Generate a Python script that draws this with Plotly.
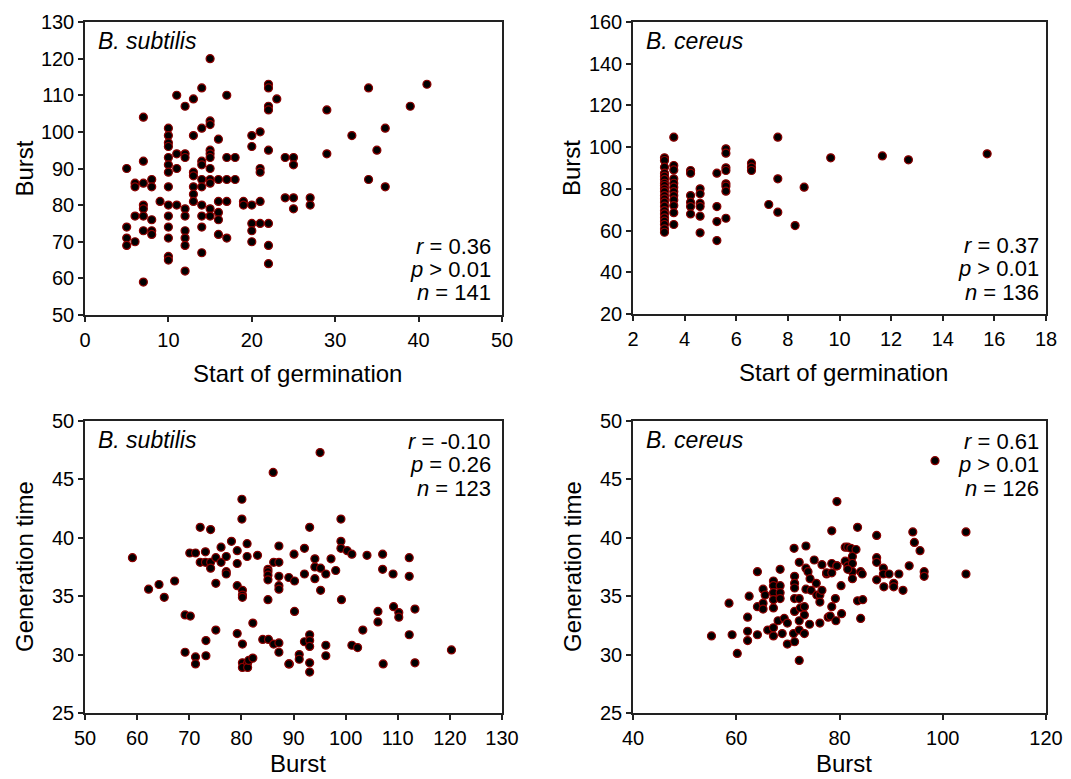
import plotly.graph_objects as go

# ---------------- data ----------------
# Panel A: B. subtilis, start of germination vs burst
bs_germ = [15, 11, 13, 14, 12, 17, 22, 22, 23, 22, 22, 7,
           10, 10, 10, 10, 14, 15, 15, 13, 16, 20, 21, 20, 22,
           11, 12, 12, 10, 10, 10, 11, 15, 15, 15, 14, 14, 15, 17, 18,
           13, 13, 16, 17, 18, 14, 15, 15, 13, 13, 13, 14, 21, 21,
           24, 25, 25, 24, 25, 25, 5, 6, 6, 7, 8, 8, 7, 10, 9,
           10, 11, 12, 7, 7, 6, 7, 8, 10, 10, 10, 12, 14, 15, 16, 16,
           14, 15, 16, 17, 19, 19, 20, 21, 20, 20, 21, 22, 5, 5, 5, 6,
           7, 8, 8, 12, 12, 12, 10, 10, 12, 7, 14, 14, 16, 17, 20, 22, 22,
           27, 27, 29, 29, 34, 32, 36, 35, 39, 41, 34, 36]
bs_burst_a = [120, 110, 109, 112, 107, 110, 113, 112, 109, 107, 106, 104,
              101, 99, 97, 96, 101, 103, 102, 99, 98, 99, 100, 96, 95,
              94, 94, 93, 93, 91, 89, 90, 95, 94, 93, 92, 91, 90, 93, 93,
              89, 88, 87, 87, 87, 87, 87, 86, 85, 83, 81, 85, 90, 89,
              93, 93, 91, 82, 82, 79, 90, 86, 85, 86, 87, 85, 92, 85, 81,
              80, 80, 79, 80, 79, 77, 77, 76, 77, 74, 71, 77, 80, 79, 78, 76,
              77, 77, 81, 81, 81, 80, 80, 81, 75, 73, 75, 75, 74, 71, 69, 70,
              73, 73, 72, 73, 71, 69, 66, 65, 62, 59, 74, 67, 72, 71, 70, 69, 64,
              82, 80, 106, 94, 112, 99, 101, 95, 107, 113, 87, 85]

# Panel B: B. cereus, start of germination vs burst
bc_germ = ([3.22] * 21 + [3.58] * 12 + [4.23] * 6 + [4.6] * 6 + [5.25] * 4 +
           [5.6] * 8 + [6.59] * 3 +
           [7.26, 7.61, 7.61, 7.61, 8.28, 8.63, 9.66, 11.66, 12.67, 15.72])
bc_burst_b = [94.9, 93.6, 90.4, 87.5, 86.1, 84.5, 82.7, 81.6, 80.0, 78.7, 76.8,
              75.2, 73.6, 71.7, 69.6, 68.0, 66.1, 64.5, 62.9, 60.8, 59.2,
              104.8, 91.2, 89.1, 84.8, 82.7, 80.8, 78.7, 76.8, 74.7, 72.0, 68.6, 62.9,
              88.8, 87.5, 76.8, 73.6, 71.5, 68.0,
              80.0, 77.6, 73.1, 71.5, 66.9, 58.9,
              87.5, 71.5, 64.3, 55.2,
              99.2, 97.1, 90.1, 88.8, 82.4, 81.3, 78.9, 65.9,
              92.3, 90.4, 88.8,
              72.5, 104.8, 84.8, 68.8, 62.4, 80.8, 94.9, 95.8, 93.9, 96.8]

# Panel C: B. subtilis, burst vs generation time
bs_burst_c = [59.1, 62.2, 64.2, 65.2, 67.2, 69.2, 70.2, 69.2, 71.2, 71.2, 73.2, 73.2,
              75.1, 79.2, 80.2, 82.2, 80.2, 80.2, 81.2, 81.2, 81.4, 82.2,
              84.1, 85.2, 86.2, 87.2, 87.2, 89.2,
              70.1, 71.2, 73.1, 72.1, 73.1, 74.1, 74.1, 72.1, 74.1,
              75.1, 76.1, 76.1, 77.1, 77.1, 77.1, 75.1, 78.1, 79.2, 79.2,
              81.1, 81.1, 83.1, 79.2, 80.2, 80.2, 80.2, 80.1, 80.1, 86.1,
              85.1, 85.1, 85.1, 85.1, 85.1, 86.2, 87.2, 87.2, 87.2, 87.2, 87.2,
              89.1, 90.2, 90.1, 90.2,
              95.1, 99.1, 93.1, 99.1, 99.1, 100.3, 101.2, 92.1,
              94.1, 94.1, 95.2, 96.2, 98.1, 97.2, 94.1, 92.1, 95.2,
              104.1, 107.1, 112.2, 107.1, 109.1, 112.2, 99.2,
              106.2, 106.2, 109.2, 110.2, 110.2, 113.3, 103.3, 112.2,
              101.2, 102.3, 92.1, 93.1, 93.1, 93.1, 96.2, 96.2,
              91.1, 91.1, 89.1, 93.1, 93.1, 107.2, 113.3, 120.3]
bs_gen = [38.3, 35.6, 36.0, 34.9, 36.3, 33.4, 33.3, 30.2, 29.8, 29.2, 31.2, 29.9,
          32.1, 31.8, 30.9, 32.7, 29.3, 28.9, 29.3, 28.9, 29.5, 29.7,
          31.3, 31.3, 30.9, 31.0, 30.2, 29.2,
          38.7, 38.7, 38.8, 37.9, 37.9, 37.9, 37.4, 40.9, 40.7,
          38.3, 39.2, 37.9, 38.4, 37.1, 36.9, 36.1, 39.7, 38.9, 37.8,
          39.5, 38.4, 38.5, 35.9, 35.5, 35.1, 34.9, 43.3, 41.6, 45.6,
          37.3, 37.1, 36.8, 36.4, 34.7, 37.9, 37.9, 39.3, 36.7, 35.9, 35.6,
          36.6, 36.3, 38.6, 33.7,
          47.3, 41.6, 40.9, 39.7, 39.1, 38.9, 38.6, 39.1,
          38.2, 37.5, 37.4, 36.9, 37.2, 38.2, 36.5, 36.9, 35.5,
          38.5, 38.6, 38.3, 37.3, 36.9, 36.7, 34.7,
          33.7, 32.8, 34.1, 33.6, 33.2, 33.9, 32.1, 31.7,
          30.8, 30.6, 31.1, 31.7, 31.2, 30.7, 30.8, 29.9,
          30.0, 29.6, 29.2, 29.3, 28.5, 29.2, 29.3, 30.4]

# Panel D: B. cereus, burst vs generation time
bc_burst_d = [55.2, 58.6, 59.2, 60.2, 62.2, 62.2, 62.2, 62.5, 64.1, 64.1, 64.1,
              65.2, 65.2, 65.2, 65.6, 66.1, 67.2, 67.2,
              67.2, 67.2, 67.2, 67.2, 67.2, 68.1, 69.3,
              68.5, 68.5, 68.5, 68.5, 68.9, 69.9, 69.9, 71.1, 71.3, 71.2,
              71.3, 71.3, 71.3, 71.3, 71.3, 72.2, 72.2, 72.2, 72.2, 72.2, 72.4,
              73.2, 73.2, 73.2, 73.5, 73.5, 73.5, 73.9, 74.2, 74.3, 74.5,
              75.1, 75.5, 75.6, 76.2, 76.2, 76.2, 76.6, 76.6, 77.5, 77.8,
              79.5, 78.5, 83.5, 87.2, 94.2, 94.5, 95.6, 98.5, 104.5, 104.5,
              81.1, 81.6, 82.2, 83.2, 82.5, 81.1, 81.6, 82.5, 82.5, 81.6, 82.5, 84.1, 84.4,
              78.5, 79.5, 77.5, 78.5, 79.5, 80.3,
              79.2, 78.5, 78.2, 79.3, 80.4, 83.5, 84.5, 84.1,
              87.2, 87.2, 87.2, 88.5, 88.5, 89.6, 88.6, 90.5, 90.5, 92.3, 91.5, 93.5,
              96.4, 96.4]
bc_gen = [31.6, 34.4, 31.7, 30.1, 33.2, 32.0, 31.2, 35.0, 37.1, 34.1, 31.7,
          35.6, 34.4, 33.9, 35.1, 32.1, 32.3, 31.6,
          36.3, 35.9, 35.3, 34.7, 34.0, 32.9, 33.1,
          37.3, 35.9, 35.3, 34.8, 31.8, 30.9, 32.7, 31.8, 31.1, 39.1,
          36.7, 36.1, 35.7, 34.8, 33.7, 37.9, 34.8, 32.9, 32.1, 29.5, 34.0,
          31.8, 33.4, 34.1, 39.3, 37.4, 35.6, 37.1, 32.6, 36.5, 35.5,
          38.1, 36.1, 35.1, 32.7, 35.1, 34.5, 35.5, 37.7, 36.9, 33.2,
          43.1, 40.6, 40.9, 40.2, 40.5, 39.6, 38.9, 46.6, 40.5, 36.9,
          39.2, 39.2, 39.1, 39.0, 38.4, 38.0, 37.6, 37.8, 37.1, 37.3, 36.5, 37.1, 36.9,
          37.8, 37.6, 37.0, 37.0, 37.6, 35.9,
          34.8, 34.1, 33.3, 32.9, 33.5, 34.6, 34.7, 33.1,
          38.3, 37.9, 36.4, 37.4, 36.9, 36.9, 35.8, 36.1, 35.8, 35.5, 36.9, 37.6,
          37.1, 36.7]

panels = [
    dict(x=bs_germ, y=bs_burst_a, xr=[0, 50], xd=10, yr=[50, 130], yd=10,
         xt="Start of germination", yt="Burst", sp="B. subtilis",
         stats=["<i>r</i> = 0.36", "<i>p</i> > 0.01", "<i>n</i> = 141"]),
    dict(x=bc_germ, y=bc_burst_b, xr=[2, 18], xd=2, yr=[20, 160], yd=20,
         xt="Start of germination", yt="Burst", sp="B. cereus",
         stats=["<i>r</i> = 0.37", "<i>p</i> > 0.01", "<i>n</i> = 136"]),
    dict(x=bs_burst_c, y=bs_gen, xr=[50, 130], xd=10, yr=[25, 50], yd=5,
         xt="Burst", yt="Generation time", sp="B. subtilis",
         stats=["<i>r</i> = -0.10", "<i>p</i> = 0.26", "<i>n</i> = 123"]),
    dict(x=bc_burst_d, y=bc_gen, xr=[40, 120], xd=20, yr=[25, 50], yd=5,
         xt="Burst", yt="Generation time", sp="B. cereus",
         stats=["<i>r</i> = 0.61", "<i>p</i> > 0.01", "<i>n</i> = 126"]),
]

W, H = 1071, 779
def px(v): return v / W
def py(v): return 1 - v / H

# plot-area boxes in pixels: (left, right, top, bottom)
boxes = [(85, 502, 22, 315), (633, 1046, 22, 314),
         (85, 502, 421, 713), (633, 1046, 421, 713)]
stat_pos = [(493, [246, 269, 292]), (1041, [245, 268, 292]),
            (493, [441, 464, 489]), (1041, [441, 464, 489])]
xtitle_off = [58, 58, 50, 50]

FONT = "Liberation Sans, Arial, sans-serif"
fig = go.Figure()
annotations = []
for i, (p, b) in enumerate(zip(panels, boxes)):
    n = "" if i == 0 else str(i + 1)
    fig.add_trace(go.Scatter(
        x=p["x"], y=p["y"], mode="markers", xaxis="x" + n, yaxis="y" + n,
        marker=dict(color="black", size=8, line=dict(color="#8b0000", width=1.2)),
        showlegend=False, hoverinfo="x+y"))
    axstyle = dict(showline=True, linecolor="#222", linewidth=1.5, mirror=True,
                   ticks="outside", ticklen=5, tickwidth=1.5, tickcolor="#222",
                   showgrid=False, zeroline=False, automargin=False,
                   tickfont=dict(family=FONT, size=20, color="black"))
    fig.update_layout(**{
        "xaxis" + n: dict(domain=[px(b[0]), px(b[1])], range=p["xr"], dtick=p["xd"],
                          anchor="y" + n, ticklabelstandoff=1, **axstyle),
        "yaxis" + n: dict(domain=[py(b[3]), py(b[2])], range=p["yr"], dtick=p["yd"],
                          anchor="x" + n, ticklabelstandoff=0, **axstyle),
    })
    # axis titles
    annotations.append(dict(text=p["xt"], x=px((b[0] + b[1]) / 2 + 4), y=py(b[3] + xtitle_off[i]),
                            xref="paper", yref="paper", showarrow=False,
                            xanchor="center", yanchor="middle",
                            font=dict(family=FONT, size=24, color="black")))
    annotations.append(dict(text=p["yt"], x=px(b[0] - 61), y=py((b[2] + b[3]) / 2),
                            xref="paper", yref="paper", showarrow=False, textangle=-90,
                            xanchor="center", yanchor="middle",
                            font=dict(family=FONT, size=24, color="black")))
    # species label
    annotations.append(dict(text="<i>" + p["sp"] + "</i>", x=px(b[0] + 11), y=py(b[2] + 19),
                            xref="paper", yref="paper", showarrow=False,
                            xanchor="left", yanchor="middle",
                            font=dict(family=FONT, size=23, color="black")))
    sx, sys_ = stat_pos[i]
    for txt, yy in zip(p["stats"], sys_):
        annotations.append(dict(text=txt, x=px(sx), y=py(yy), xref="paper", yref="paper",
                                showarrow=False, xanchor="right", yanchor="middle",
                                font=dict(family=FONT, size=22, color="black")))

fig.update_layout(width=W, height=H, margin=dict(l=0, r=0, t=0, b=0),
                  paper_bgcolor="white", plot_bgcolor="white",
                  annotations=annotations, font=dict(family=FONT))
fig.write_html("out.html")
